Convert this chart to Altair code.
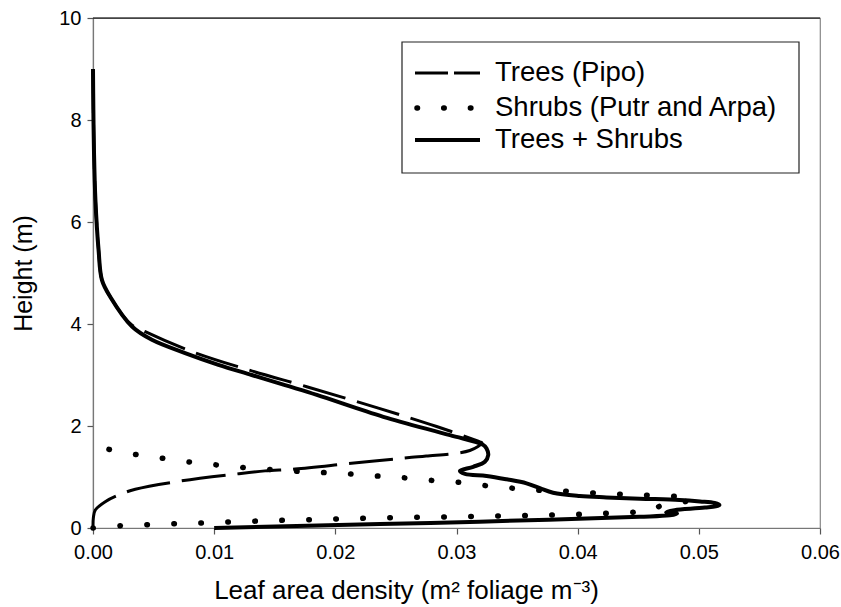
import altair as alt
import pandas as pd

# ---------------- data ----------------
# Trees + Shrubs (solid), path order
tot_x = [0.0, 0.00003, 0.00008, 0.0002, 0.00046, 0.00074, 0.00143, 0.00322, 0.00486,
         0.0076, 0.01035, 0.0131, 0.01585, 0.01847, 0.02396, 0.02946, 0.0322, 0.03248,
         0.03262, 0.03234, 0.03138, 0.03028, 0.0307, 0.03248, 0.03413, 0.03578, 0.03688,
         0.03797, 0.04017, 0.04237, 0.04512, 0.0484, 0.0501, 0.0513, 0.0517, 0.0505,
         0.0480, 0.0473, 0.0482, 0.0476, 0.0451, 0.0319, 0.0237, 0.0100]
tot_y = [9.0, 8.2, 7.4, 6.43, 5.45, 4.86, 4.53, 3.95, 3.69,
         3.43, 3.20, 3.0, 2.80, 2.61, 2.18, 1.82, 1.63, 1.56,
         1.43, 1.30, 1.20, 1.12, 1.06, 1.02, 0.955, 0.876, 0.78,
         0.69, 0.627, 0.60, 0.575, 0.55, 0.52, 0.49, 0.45, 0.40,
         0.35, 0.31, 0.28, 0.25, 0.22, 0.124, 0.078, 0.0]

# Trees (Pipo) (dashed), path order
tree_x = [0.0, 0.00003, 0.00008, 0.0002, 0.00046, 0.00074, 0.00143, 0.0031, 0.00431,
          0.00816, 0.01283, 0.01764, 0.02355, 0.02836, 0.03193, 0.0321, 0.0311, 0.0275,
          0.0263, 0.02154, 0.01668, 0.0142, 0.01187, 0.0072, 0.00349, 0.00225, 0.00101,
          0.00019, 0.00003, 0.0]
tree_y = [9.0, 8.2, 7.4, 6.43, 5.45, 4.86, 4.53, 4.0, 3.85,
          3.46, 3.10, 2.77, 2.35, 1.99, 1.69, 1.67, 1.52, 1.41,
          1.385, 1.275, 1.157, 1.12, 1.06, 0.92, 0.76, 0.66, 0.516,
          0.353, 0.2, 0.0]

# Shrubs (Putr and Arpa) (dotted), path order
shrub_x = [0.0, 0.00225, 0.0045, 0.0067, 0.0089, 0.0112, 0.0134, 0.0156, 0.0179, 0.0201,
           0.0223, 0.0246, 0.0267, 0.029, 0.0312, 0.0335, 0.0357, 0.0379, 0.0402, 0.0424,
           0.0446, 0.0462, 0.0468, 0.0485, 0.0495, 0.0490, 0.0475, 0.0453, 0.0431, 0.0409,
           0.0386, 0.0364, 0.0342, 0.0319, 0.0297, 0.0275, 0.0252, 0.0230, 0.0208, 0.01855,
           0.0163, 0.01407, 0.0119, 0.00965, 0.0074, 0.0052, 0.00293, 0.00068]
shrub_y = [0.0, 0.045, 0.065, 0.084, 0.098, 0.118, 0.135, 0.151, 0.163, 0.176,
           0.19, 0.202, 0.21, 0.215, 0.225, 0.235, 0.243, 0.255, 0.269, 0.288,
           0.308, 0.36, 0.43, 0.50, 0.56, 0.60, 0.627, 0.647, 0.667, 0.692,
           0.725, 0.745, 0.79, 0.843, 0.908, 0.941, 0.994, 1.025, 1.065, 1.092,
           1.12, 1.157, 1.196, 1.25, 1.31, 1.386, 1.465, 1.575]

legend_labels = ["Trees (Pipo)", "Shrubs (Putr and Arpa)", "Trees + Shrubs"]

x_ticks = [0.0, 0.01, 0.02, 0.03, 0.04, 0.05, 0.06]
y_ticks = [0, 2, 4, 6, 8, 10]

FONT = "Liberation Sans"


def frame(xs, ys):
    return pd.DataFrame({"x": xs, "y": ys, "i": list(range(len(xs)))})


x_scale = alt.Scale(domain=[0, 0.06], nice=False, zero=False)
y_scale = alt.Scale(domain=[0, 10], nice=False, zero=False)

common_axis = dict(
    grid=False, tickSize=6, labelFont=FONT, titleFont=FONT, labelFontSize=20,
    titleFontWeight="normal", labelColor="black", titleColor="black",
    domainColor="#777", tickColor="#555", domainWidth=1.2, tickWidth=1.2,
    labelFlush=False, labelOverlap=False,
)
x_axis = alt.Axis(values=x_ticks, format=".2f", title="Leaf area density (m² foliage m⁻³)",
                  labelPadding=8, titleFontSize=26, titleX=313, titleY=70,
                  titleAlign="center", titleBaseline="alphabetic", **common_axis)
y_axis = alt.Axis(values=y_ticks, format="d", title="Height (m)", titleFontSize=25,
                  labelPadding=6, titlePadding=22, **common_axis)


def line(df, **mk):
    return alt.Chart(df).mark_line(color="black", **mk).encode(
        x=alt.X("x:Q", scale=x_scale, axis=x_axis),
        y=alt.Y("y:Q", scale=y_scale, axis=y_axis),
        order=alt.Order("i:Q"),
    )


trees = line(frame(tree_x, tree_y), strokeWidth=3, strokeDash=[44, 12], strokeCap="butt",
             interpolate="catmull-rom")
shrubs = line(frame(shrub_x, shrub_y), strokeWidth=5.5, strokeDash=[0.5, 26.5],
              strokeCap="round", interpolate="catmull-rom")
total = line(frame(tot_x, tot_y), strokeWidth=4, strokeJoin="round",
             interpolate="catmull-rom")

one = pd.DataFrame({"a": [0]})

top_border = alt.Chart(one).mark_rule(color="black", strokeWidth=1.2).encode(
    x=alt.value(0), x2=alt.value(727), y=alt.value(0))

legend_box = alt.Chart(one).mark_rect(fill="white", stroke="#222", strokeWidth=1.2).encode(
    x=alt.value(309), x2=alt.value(706), y=alt.value(24), y2=alt.value(155))

leg_dash = alt.Chart(one).mark_rule(color="black", strokeWidth=3, strokeDash=[33, 6]).encode(
    x=alt.value(322), x2=alt.value(387), y=alt.value(55))
leg_dot = alt.Chart(one).mark_rule(color="black", strokeWidth=5.5, strokeDash=[0.5, 26.2],
                                   strokeCap="round").encode(
    x=alt.value(324), x2=alt.value(380), y=alt.value(90))
leg_solid = alt.Chart(one).mark_rule(color="black", strokeWidth=4).encode(
    x=alt.value(322), x2=alt.value(387), y=alt.value(122))

leg_texts = []
for lbl, yy in zip(legend_labels, [55, 90, 122]):
    leg_texts.append(
        alt.Chart(one).mark_text(text=lbl, align="left", baseline="middle", fontSize=27.5,
                                 font=FONT, color="black").encode(
            x=alt.value(402), y=alt.value(yy)))

chart = alt.layer(trees, shrubs, total, top_border, legend_box, leg_dash, leg_dot, leg_solid,
                  *leg_texts).properties(
    width=727, height=510,
    padding={"left": 93, "top": 18, "right": 21, "bottom": 79},
    autosize=alt.AutoSizeParams(type="none"),
    background="white",
).configure_view(stroke="#888", strokeWidth=1.2)

chart.save("out.html", embed_options={"renderer": "svg", "actions": False})
